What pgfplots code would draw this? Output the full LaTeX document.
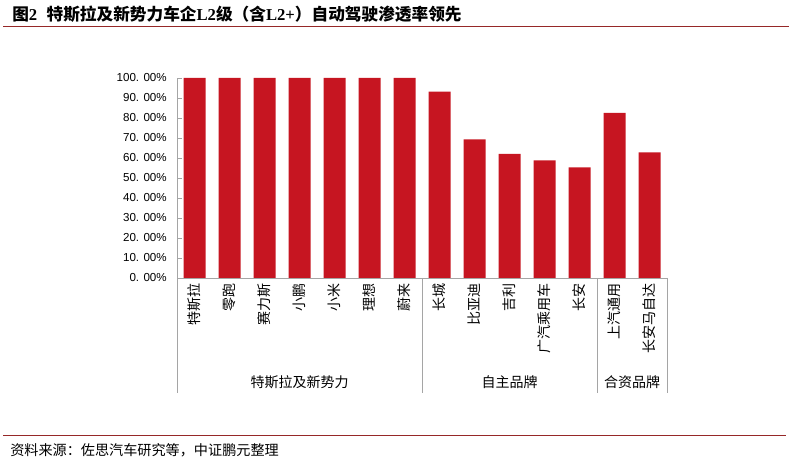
\documentclass[border=0pt]{standalone}
\usepackage{fontspec}
\usepackage{pgfplots}
\pgfplotsset{compat=1.18}
\setmainfont{Liberation Sans}
\newfontfamily\cjk{Noto Sans CJK SC}
\newfontfamily\tnr{Liberation Serif}
\definecolor{barred}{RGB}{198,21,33}
\definecolor{linered}{RGB}{150,40,40}
\definecolor{axgray}{RGB}{165,165,165}
\begin{document}
\begin{tikzpicture}[x=1pt,y=1pt]
\useasboundingbox (0,0) rectangle (591.75,348);
\node[anchor=west,inner sep=0pt] at (9,337.5) {\fontsize{12.5}{14}\selectfont\bfseries\cjk 图\tnr 2\hspace{7pt}\cjk 特斯拉及新势力车企\tnr L2\cjk 级（含\tnr L2+\cjk ）自动驾驶渗透率领先};
\draw[linered, line width=0.75pt] (2.25,327.75) -- (591.75,327.75);
\begin{axis}[
  at={(132.75pt,139.5pt)}, anchor=south west,
  scale only axis, width=367.5pt, height=150pt,
  xmin=-0.5, xmax=13.5, ymin=0, ymax=100,
  axis x line*=bottom, axis y line*=left,
  axis line style={draw=axgray,-},
  clip=false,
  ybar, bar width=16.5pt,
  ytick={0,10,...,100},
  yticklabels={0. 00\%,10. 00\%,20. 00\%,30. 00\%,40. 00\%,50. 00\%,60. 00\%,70. 00\%,80. 00\%,90. 00\%,100. 00\%},
  yticklabel style={font=\fontsize{8.7}{10}\selectfont, inner sep=0pt, anchor=east},
  yticklabel shift=7.5pt,
  xtick={0,...,13},
  xticklabels={特斯拉,零跑,赛力斯,小鹏,小米,理想,蔚来,长城,比亚迪,吉利,广汽乘用车,长安,上汽通用,长安马自达},
  xticklabel style={rotate=90, anchor=east, inner sep=0pt, font=\cjk\fontsize{10.5}{12}\selectfont},
  xticklabel shift=3.75pt,
  major x tick style={draw=none},
  major y tick style={draw=axgray},
  major tick length=3.75pt, tick align=inside,
]
\addplot[fill=barred, draw=none] coordinates {
(0,100) (1,100) (2,100) (3,100) (4,100) (5,100) (6,100)
(7,93.2) (8,69.3) (9,62.1) (10,58.8) (11,55.3)
(12,82.5) (13,62.8)};
\draw[axgray] (axis cs:-0.5,0) -- ++(0pt,-86.25pt);
\draw[axgray] (axis cs:6.5,0) -- ++(0pt,-86.25pt);
\draw[axgray] (axis cs:11.5,0) -- ++(0pt,-86.25pt);
\draw[axgray] (axis cs:13.5,0) -- ++(0pt,-86.25pt);
\node[yshift=-78pt, font=\cjk\fontsize{10.5}{12}\selectfont] at (axis cs:3,0) {特斯拉及新势力};
\node[yshift=-78pt, font=\cjk\fontsize{10.5}{12}\selectfont] at (axis cs:9,0) {自主品牌};
\node[yshift=-78pt, font=\cjk\fontsize{10.5}{12}\selectfont] at (axis cs:12.5,0) {合资品牌};
\end{axis}
\draw[linered, line width=0.75pt] (2.25,21) -- (589.5,21);
\node[anchor=west,inner sep=0pt] at (7.5,10) {\cjk\fontsize{10.6}{12}\selectfont 资料来源：佐思汽车研究等，中证鹏元整理};
\end{tikzpicture}
\end{document}
